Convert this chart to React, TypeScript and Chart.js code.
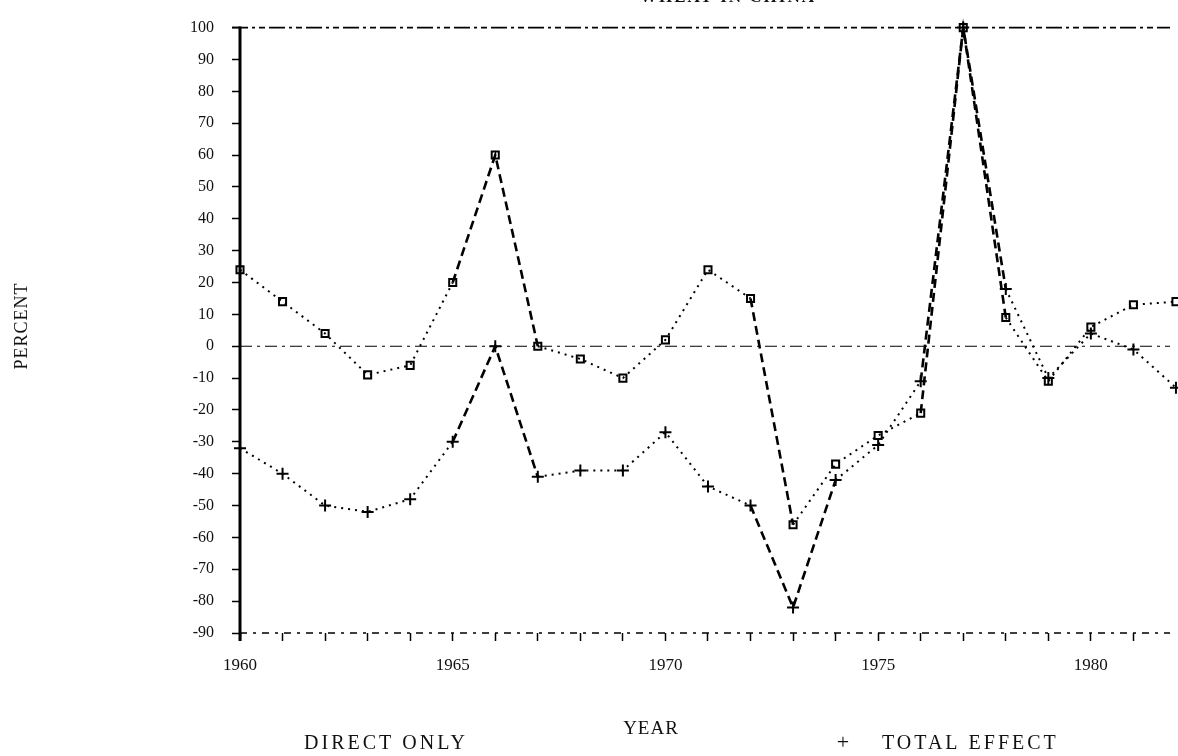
import React, { useEffect, useRef } from 'react';
import { Chart, registerables } from 'chart.js';

Chart.register(...registerables);

// ---- data ----
const years = [1960, 1961, 1962, 1963, 1964, 1965, 1966, 1967, 1968, 1969, 1970, 1971, 1972, 1973, 1974, 1975, 1976, 1977, 1978, 1979, 1980, 1981, 1982];
const directOnly = [24, 14, 4, -9, -6, 20, 60, 0, -4, -10, 2, 24, 15, -56, -37, -28, -21, 100, 9, -11, 6, 13, 14];
const totalEffect = [-32, -40, -50, -52, -48, -30, 0, -41, -39, -39, -27, -44, -50, -82, -42, -31, -11, 100, 18, -10, 4, -1, -13];
const xLabelYears = [1960, 1965, 1970, 1975, 1980];
const yMin = -90;
const yMax = 100;
const chartTitle = 'WHEAT IN CHINA';
const yAxisTitle = 'PERCENT';
const xAxisTitle = 'YEAR';
const legendDirect = 'DIRECT ONLY';
const legendTotalMark = '+';
const legendTotal = 'TOTAL EFFECT';

const FONT = '"Liberation Serif", "DejaVu Serif", serif';

const segDash = (ctx: any) => {
  const dx = Math.abs(ctx.p1.x - ctx.p0.x) || 1;
  const dy = Math.abs(ctx.p1.y - ctx.p0.y);
  return dy / dx > 2.2 ? [9, 5] : [2, 5];
};
const segWidth = (ctx: any) => {
  const dx = Math.abs(ctx.p1.x - ctx.p0.x) || 1;
  const dy = Math.abs(ctx.p1.y - ctx.p0.y);
  return dy / dx > 2.2 ? 2.6 : 2;
};

const decorPlugin = {
  id: 'decor',
  beforeDatasetsDraw(chart: any) {
    const { ctx, chartArea, scales } = chart;
    const y = scales.y;
    ctx.save();
    ctx.strokeStyle = '#000';
    // top reference line at 100
    ctx.lineWidth = 1.6;
    ctx.setLineDash([16, 4, 3, 4, 6, 4]);
    ctx.beginPath();
    ctx.moveTo(chartArea.left - 8, y.getPixelForValue(yMax));
    ctx.lineTo(chartArea.right, y.getPixelForValue(yMax));
    ctx.stroke();
    // zero line
    ctx.lineWidth = 1.2;
    ctx.setLineDash([12, 5, 3, 5]);
    ctx.beginPath();
    ctx.moveTo(chartArea.left, y.getPixelForValue(0));
    ctx.lineTo(chartArea.right, y.getPixelForValue(0));
    ctx.stroke();
    // bottom axis
    ctx.lineWidth = 1.5;
    ctx.setLineDash([7, 6, 3, 6]);
    ctx.beginPath();
    ctx.moveTo(chartArea.left, chartArea.bottom);
    ctx.lineTo(chartArea.right, chartArea.bottom);
    ctx.stroke();
    // left axis
    ctx.setLineDash([]);
    ctx.lineWidth = 3;
    ctx.beginPath();
    ctx.moveTo(chartArea.left, chartArea.top - 1);
    ctx.lineTo(chartArea.left, chartArea.bottom + 8);
    ctx.stroke();
    ctx.restore();
  },
  afterDraw(chart: any) {
    const { ctx } = chart;
    ctx.save();
    ctx.fillStyle = '#111';
    // title (cut off at the top edge)
    ctx.font = `bold 17px ${FONT}`;
    ctx.textAlign = 'center';
    ctx.textBaseline = 'alphabetic';
    (ctx as any).letterSpacing = '2px';
    ctx.fillText(chartTitle, 728, 2);
    // y axis title
    ctx.save();
    ctx.translate(22, 326);
    ctx.rotate(-Math.PI / 2);
    ctx.font = `18px ${FONT}`;
    ctx.textBaseline = 'middle';
    (ctx as any).letterSpacing = '1px';
    ctx.fillText(yAxisTitle, 0, 0);
    ctx.restore();
    // x axis title
    ctx.font = `19px ${FONT}`;
    ctx.textBaseline = 'middle';
    (ctx as any).letterSpacing = '1px';
    ctx.fillText(xAxisTitle, 651, 729);
    // legend
    ctx.font = `20px ${FONT}`;
    (ctx as any).letterSpacing = '3px';
    ctx.fillText(legendDirect, 386, 744);
    (ctx as any).letterSpacing = '0px';
    ctx.font = `22px ${FONT}`;
    ctx.fillText(legendTotalMark, 843, 743);
    ctx.font = `20px ${FONT}`;
    (ctx as any).letterSpacing = '3px';
    ctx.textAlign = 'left';
    ctx.fillText(legendTotal, 882, 744);
    ctx.restore();
  },
};

export default function App() {
  const ref = useRef<HTMLCanvasElement | null>(null);

  useEffect(() => {
    document.body.style.margin = '0';
    document.body.style.background = '#fff';
    const canvas = ref.current;
    if (!canvas) return;
    const chart = new Chart(canvas, {
      type: 'line',
      data: {
        datasets: [
          {
            label: legendDirect,
            data: years.map((x, i) => ({ x, y: directOnly[i] })),
            borderColor: '#000',
            backgroundColor: 'rgba(0,0,0,0)',
            borderWidth: 2,
            pointStyle: 'rect',
            pointRadius: 5,
            pointBorderWidth: 2,
            pointBorderColor: '#000',
            pointBackgroundColor: 'rgba(0,0,0,0)',
            tension: 0,
            clip: false,
            segment: { borderDash: segDash, borderWidth: segWidth },
          },
          {
            label: legendTotal,
            data: years.map((x, i) => ({ x, y: totalEffect[i] })),
            borderColor: '#000',
            backgroundColor: 'rgba(0,0,0,0)',
            borderWidth: 2,
            pointStyle: 'cross',
            pointRadius: 6,
            pointBorderWidth: 2,
            pointBorderColor: '#000',
            tension: 0,
            clip: false,
            segment: { borderDash: segDash, borderWidth: segWidth },
          },
        ],
      },
      options: {
        responsive: false,
        animation: false,
        devicePixelRatio: 1,
        layout: { padding: { top: 22, left: 0, right: 0, bottom: 0 } },
        plugins: {
          legend: { display: false },
          tooltip: { enabled: false },
          title: { display: false },
        },
        scales: {
          x: {
            type: 'linear',
            min: 1960,
            max: 1981.86,
            afterFit: (s: any) => {
              s.height = 123;
            },
            border: { display: false },
            grid: {
              drawOnChartArea: false,
              drawTicks: true,
              tickLength: 8,
              tickWidth: 1.5,
              tickColor: '#000',
              color: '#000',
            },
            ticks: {
              stepSize: 1,
              autoSkip: false,
              includeBounds: false,
              maxRotation: 0,
              padding: 14,
              color: '#111',
              font: { family: FONT, size: 17 },
              callback: (v: any) => (xLabelYears.includes(Number(v)) ? String(v) : ''),
            },
          },
          y: {
            type: 'linear',
            min: yMin,
            max: yMax,
            afterFit: (s: any) => {
              s.width = 240;
            },
            border: { display: false },
            grid: {
              drawOnChartArea: false,
              drawTicks: true,
              tickLength: 8,
              tickWidth: 1.5,
              tickColor: '#000',
              color: '#000',
            },
            ticks: {
              stepSize: 10,
              padding: 18,
              color: '#111',
              font: { family: FONT, size: 16 },
              callback: (v: any) => String(v),
            },
          },
        },
      },
      plugins: [decorPlugin],
    } as any);
    return () => {
      chart.destroy();
    };
  }, []);

  return (
    <canvas
      ref={ref}
      width={1178}
      height={756}
      style={{ display: 'block', width: '1178px', height: '756px', background: '#fff' }}
    />
  );
}
